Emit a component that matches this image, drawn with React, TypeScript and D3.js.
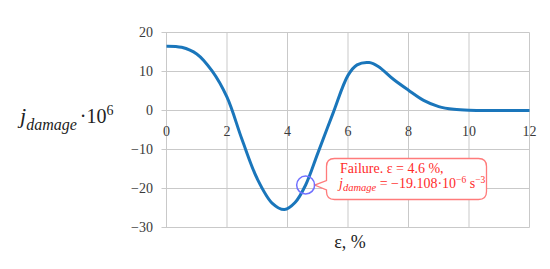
import React from 'react';
import * as d3 from 'd3';

const strainPct = [0, 0.5, 1, 1.5, 2, 2.5, 3, 3.5, 3.9, 4.25, 4.6, 5, 5.5, 6, 6.3, 6.7, 7, 7.5, 8, 8.5, 9, 9.5, 10, 11, 12];
const damageRate = [16.5, 16.2, 14.5, 10.2, 3.4, -7.5, -17.5, -23.8, -25.4, -23.6, -19.1, -11, -0.8, 9, 11.7, 12.3, 11.3, 8.0, 5.2, 2.6, 1.0, 0.3, 0.05, 0, 0];
const xTicks = [0, 2, 4, 6, 8, 10, 12];
const yTicks = [20, 10, 0, -10, -20, -30];
const failure = { x: 4.6, y: -19.108 };

const font = '"Liberation Serif", "DejaVu Serif", serif';

export default function App() {
  const W = 550, H = 269;
  const x = d3.scaleLinear().domain([0, 12]).range([166.5, 529.5]);
  const y = d3.scaleLinear().domain([-30, 20]).range([227.5, 32.5]);

  const pts = strainPct.map((s, i) => [s, damageRate[i]] as [number, number]);
  const line = d3.line<[number, number]>()
    .x(d => x(d[0]))
    .y(d => y(d[1]))
    .curve(d3.curveCatmullRom.alpha(0.5));

  const cx = x(failure.x), cy = y(failure.y);
  // callout box
  const bx = 326.5, by = 158.5, bw = 160, bh = 41, r = 8;
  const callout = `M${bx + r},${by} H${bx + bw - r} Q${bx + bw},${by} ${bx + bw},${by + r} V${by + bh - r} Q${bx + bw},${by + bh} ${bx + bw - r},${by + bh} H${bx + r} Q${bx},${by + bh} ${bx},${by + bh - r} V${cy + 5} L${cx + 9},${cy} L${bx},${cy - 4.5} V${by + r} Q${bx},${by} ${bx + r},${by} Z`;

  return (
    <svg width={W} height={H} style={{ position: 'absolute', left: 0, top: 0, background: '#fff' }}>
      {/* grid */}
      <g stroke="#c9c9c9" strokeWidth={1}>
        {yTicks.map(t => (
          <line key={'h' + t} x1={x(0) - 5} x2={x(12)} y1={y(t)} y2={y(t)} />
        ))}
        {xTicks.map(t => (
          <line key={'v' + t} x1={x(t)} x2={x(t)} y1={y(20)} y2={y(-30)} />
        ))}
      </g>

      {/* tick labels */}
      <g fontFamily={font} fontSize={14} fill="#3a3a3a">
        {yTicks.map(t => (
          <text key={'yl' + t} x={153} y={y(t)} dy="0.35em" textAnchor="end">
            {t < 0 ? '\u2212' + Math.abs(t) : t}
          </text>
        ))}
        {xTicks.map(t => (
          <text key={'xl' + t} x={x(t)} y={y(0) + 25} textAnchor="middle">{t}</text>
        ))}
      </g>

      {/* curve */}
      <path d={line(pts) || ''} fill="none" stroke="#1a76bb" strokeWidth={3} />

      {/* axis titles */}
      <text x={20} y={123} fontFamily={font} fill="#222">
        <tspan fontStyle="italic" fontSize={22}>j</tspan>
        <tspan fontStyle="italic" fontSize={16} dy={7}>damage</tspan>
        <tspan fontSize={20} dy={-7} dx={3}>{'\u00b7'}10</tspan>
        <tspan fontSize={14} dy={-8}>6</tspan>
      </text>
      <text x={350} y={248} textAnchor="middle" fontFamily={font} fontSize={18} fill="#222">ε, %</text>

      {/* failure marker */}
      <path d={callout} fill="#fff" stroke="#ff7b7b" strokeWidth={1.3} />
      <circle cx={cx} cy={cy} r={9} fill="none" stroke="#7070ff" strokeWidth={1.5} />
      <g fontFamily={font} fontSize={14} fill="#ff2b2b">
        <text x={340} y={172.5}>Failure. ε = 4.6 %,</text>
        <text x={339} y={188}>
          <tspan fontStyle="italic">j</tspan>
          <tspan fontStyle="italic" fontSize={10.5} dy={3}>damage</tspan>
          <tspan dy={-3}>{' = \u221219.108\u00b710'}</tspan>
          <tspan fontSize={9.5} dy={-5}>{'\u22126'}</tspan>
          <tspan dy={5}>{' s'}</tspan>
          <tspan fontSize={9.5} dy={-5}>{'\u22123'}</tspan>
        </text>
      </g>
    </svg>
  );
}
